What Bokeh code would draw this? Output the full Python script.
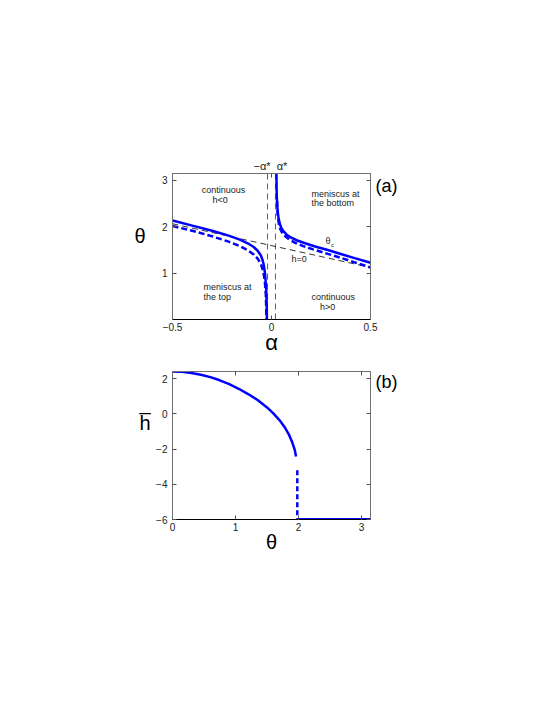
import math
from bokeh.plotting import figure
from bokeh.models import Range1d, LinearAxis, FixedTicker, CustomJSTickFormatter
from bokeh.layouts import column
from bokeh.embed import file_html
from bokeh.resources import INLINE
from bokeh.core.properties import value

PI = math.pi
# ---------------- panel (a) data ----------------
left_solid_alpha = [-0.5, -0.4, -0.3, -0.22, -0.16, -0.12, -0.09, -0.07, -0.055, -0.045, -0.038, -0.033, -0.029, -0.026, -0.024, -0.023]
left_solid_theta = [2.13, 2.02, 1.91, 1.81, 1.72, 1.64, 1.56, 1.48, 1.39, 1.28, 1.15, 1.00, 0.80, 0.55, 0.28, 0.0]
right_solid_alpha = [0.025, 0.0255, 0.026, 0.027, 0.029, 0.032, 0.036, 0.042, 0.05, 0.06, 0.075, 0.1, 0.13, 0.17, 0.22, 0.28, 0.35, 0.42, 0.5]
right_solid_theta = [PI, 2.95, 2.80, 2.62, 2.45, 2.30, 2.17, 2.06, 1.97, 1.90, 1.83, 1.76, 1.70, 1.64, 1.57, 1.50, 1.41, 1.32, 1.22]
left_dash_alpha = [-0.5, -0.4, -0.3, -0.22, -0.16, -0.12, -0.09, -0.07, -0.055, -0.045, -0.038, -0.033, -0.029, -0.027, -0.026]
left_dash_theta = [2.01, 1.91, 1.79, 1.68, 1.58, 1.49, 1.40, 1.31, 1.21, 1.08, 0.95, 0.78, 0.55, 0.30, 0.0]
right_dash_alpha = [0.028, 0.03, 0.033, 0.038, 0.045, 0.055, 0.07, 0.09, 0.12, 0.16, 0.21, 0.27, 0.34, 0.42, 0.5]
right_dash_theta = [2.55, 2.35, 2.18, 2.04, 1.94, 1.86, 1.79, 1.72, 1.65, 1.58, 1.51, 1.43, 1.34, 1.23, 1.12]
h0_alpha = [-0.5, 0.5]
h0_theta = [2.06, 1.12]
alpha_star = 0.02
a_xticks = [-0.5, 0, 0.5]
a_yticks = [1, 2, 3]

# ---------------- panel (b) data ----------------
b_theta = [0.0, 0.15, 0.3, 0.45, 0.6, 0.75, 0.9, 1.05, 1.2, 1.35, 1.5, 1.6, 1.7, 1.78, 1.85, 1.9, 1.94, 1.96]
b_hbar = [2.4, 2.38, 2.32, 2.22, 2.08, 1.90, 1.68, 1.42, 1.12, 0.78, 0.36, 0.02, -0.37, -0.76, -1.2, -1.62, -2.05, -2.42]
b_jump_theta = 1.98
b_jump_top = -3.2
b_floor = -6.0
b_xticks = [0, 1, 2, 3]
b_yticks = [-6, -4, -2, 0, 2]

BLUE = "#0000ff"
FONT = "Liberation Sans"
GRAY = "#707070"
fmt = CustomJSTickFormatter(code="return tick < 0 ? '\\u2212' + (-tick) : tick.toString();")
blank = CustomJSTickFormatter(code="return '';")


def style(p, xt, yt):
    p.outline_line_color = GRAY
    p.xgrid.visible = False
    p.ygrid.visible = False
    for ax in p.xaxis + p.yaxis:
        ax.major_tick_in = 4
        ax.major_tick_out = 0
        ax.minor_tick_line_color = None
        ax.major_label_text_font = FONT
        ax.major_label_text_font_size = "10px"
        ax.major_label_text_color = "#222222"
        ax.axis_line_color = GRAY
        ax.major_tick_line_color = "#505050"
        ax.formatter = fmt
    p.xaxis[0].ticker = FixedTicker(ticks=xt)
    p.yaxis[0].ticker = FixedTicker(ticks=yt)
    p.xaxis[0].axis_line_color = "black"
    p.xaxis[0].major_label_standoff = 3
    p.yaxis[0].major_label_standoff = 5
    for side, tk in (("above", xt), ("right", yt)):
        ax = LinearAxis(ticker=FixedTicker(ticks=tk), formatter=blank,
                        major_label_standoff=0, major_tick_in=4, major_tick_out=0,
                        minor_tick_line_color=None, axis_line_color=GRAY,
                        major_tick_line_color="#505050")
        p.add_layout(ax, side)


def label_axis(p, side, pos, text, size, standoff, line_height=1.2):
    ax = LinearAxis(ticker=FixedTicker(ticks=[pos]),
                    formatter=CustomJSTickFormatter(args=dict(t=text), code="return t;"),
                    major_tick_line_color=None, axis_line_color=None, minor_tick_line_color=None,
                    major_tick_in=0, major_tick_out=0,
                    major_label_text_font=FONT, major_label_text_font_size=size,
                    major_label_text_line_height=line_height,
                    major_label_text_color="black", major_label_standoff=standoff)
    p.add_layout(ax, side)
    return ax


# ---------------- figure (a) ----------------
pa = figure(width=540, height=357, x_range=Range1d(-0.5, 0.5), y_range=Range1d(0, PI),
            output_backend="svg", toolbar_location=None,
            min_border_left=172, min_border_right=170, min_border_top=173, min_border_bottom=34)
style(pa, a_xticks, a_yticks)
pa.line(h0_alpha, h0_theta, line_color="black", line_width=0.8, line_dash="6 4")
for a in (-alpha_star, alpha_star):
    pa.line([a, a], [0, PI], line_color="#333333", line_width=0.8, line_dash="6 4")
pa.line(left_dash_alpha, left_dash_theta, line_color=BLUE, line_width=2.5, line_dash="6 3")
pa.line(right_dash_alpha, right_dash_theta, line_color=BLUE, line_width=2.5, line_dash="6 3")
pa.line(left_solid_alpha, left_solid_theta, line_color=BLUE, line_width=2.5)
pa.line(right_solid_alpha, right_solid_theta, line_color=BLUE, line_width=2.5)

ink = "#222222"
pa.text(x=[-0.242, -0.26], y=[2.78, 2.57], text=["continuous", "h<0"], text_font=value(FONT),
        text_font_size="9px", text_align="center", text_baseline="middle", text_color=ink)
pa.text(x=[0.202, 0.202], y=[2.71, 2.50], text=["meniscus at", "the bottom"], text_font=value(FONT),
        text_font_size="9px", text_align="left", text_baseline="middle", text_color=ink)
pa.text(x=[-0.343, -0.343], y=[0.69, 0.48], text=["meniscus at", "the top"], text_font=value(FONT),
        text_font_size="9px", text_align="left", text_baseline="middle", text_color=ink)
pa.text(x=[0.202, 0.283], y=[0.48, 0.27], text=["continuous", "h>0"], text_font=value(FONT),
        text_font_size="9px", text_align=["left", "center"], text_baseline="middle", text_color=ink)
pa.text(x=[0.101], y=[1.30], text=["h=0"], text_font=value(FONT),
        text_font_size="9px", text_align="left", text_baseline="middle", text_color=ink)
pa.text(x=[0.273], y=[1.69], text=["θ"], text_font=value(FONT),
        text_font_size="9px", text_align="left", text_baseline="middle", text_color=ink)
pa.text(x=[0.300], y=[1.60], text=["c"], text_font=value(FONT),
        text_font_size="6px", text_align="left", text_baseline="middle", text_color=ink)

# labels outside the frame, carried by label-only axes
star_ax = LinearAxis(ticker=FixedTicker(ticks=[-0.048, 0.053]),
                     formatter=CustomJSTickFormatter(code="return tick < 0 ? '\\u2212\\u03b1*' : '\\u03b1*';"),
                     major_tick_line_color=None, axis_line_color=None, minor_tick_line_color=None,
                     major_tick_in=0, major_tick_out=0, major_label_text_font=FONT,
                     major_label_text_font_size="11px", major_label_text_color="#222222",
                     major_label_standoff=2)
pa.add_layout(star_ax, "above")
label_axis(pa, "left", 1.80, "θ", "20px", 13)
label_axis(pa, "below", 0.0, "α", "22px", -4)
label_axis(pa, "right", 2.87, "(a)", "18px", 5)

# ---------------- figure (b) ----------------
pb = figure(width=540, height=207, x_range=Range1d(0, PI), y_range=Range1d(-6, 2.4),
            output_backend="svg", toolbar_location=None,
            min_border_left=172, min_border_right=170, min_border_top=14, min_border_bottom=45)
style(pb, b_xticks, b_yticks)
pb.line(b_theta, b_hbar, line_color=BLUE, line_width=2.5)
pb.line([b_jump_theta, b_jump_theta], [b_jump_top, b_floor], line_color=BLUE, line_width=2.5, line_dash="5 3")
pb.line([b_jump_theta, PI], [b_floor, b_floor], line_color=BLUE, line_width=3)
label_axis(pb, "left", 0.05, "_\nh", "20px", 3, line_height=0.9)
label_axis(pb, "below", PI / 2, "θ", "20px", -3)
label_axis(pb, "right", 1.78, "(b)", "18px", 5)

layout = column(pa, pb, spacing=0)
open("out.html", "w").write(file_html(layout, INLINE))
